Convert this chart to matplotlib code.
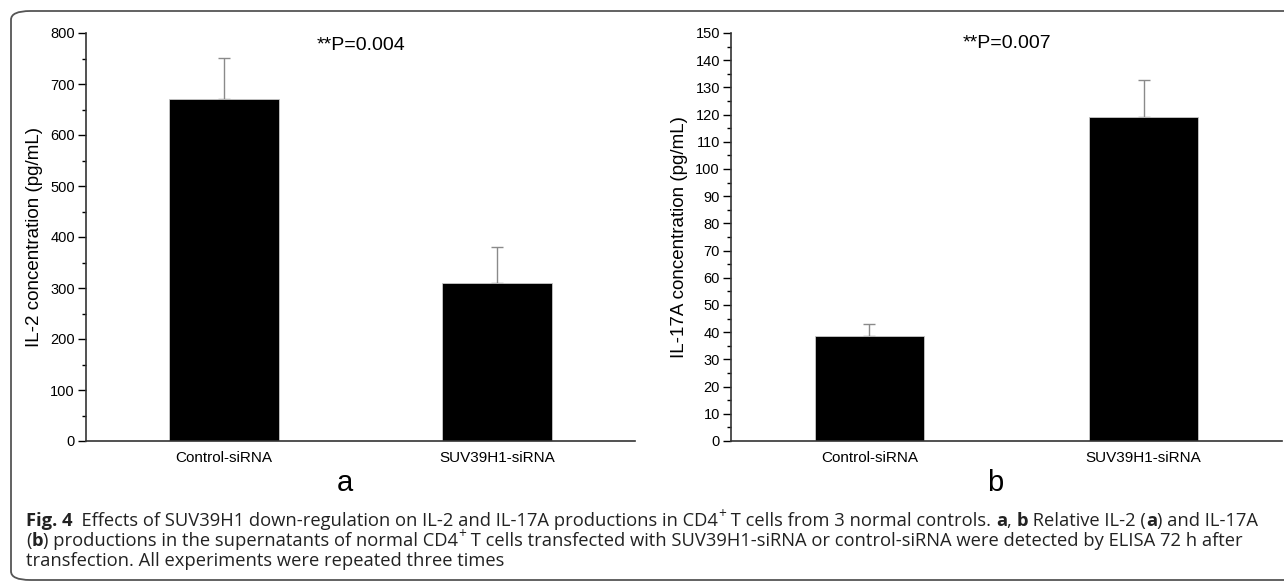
import numpy as np
import matplotlib.pyplot as plt
from matplotlib.patches import FancyBboxPatch

groups = ["Control-siRNA", "SUV39H1-siRNA"]
il2_mean = [670, 310]
il2_err = [81, 70]
il17_mean = [38.6, 119.1]
il17_err = [4.4, 13.6]
p_texts = ["**P=0.004", "**P=0.007"]

plt.rcParams["font.family"] = ["Liberation Sans", "DejaVu Sans"]

W, H = 1284, 582
fig = plt.figure(figsize=(W / 100, H / 100), dpi=100)


def px_axes(x0, x1, y0, y1):
    return fig.add_axes([x0 / W, 1 - y1 / H, (x1 - x0) / W, (y1 - y0) / H])


def bar_panel(ax, means, errs, ymax, major, minor, ylabel, ptext, box, p_xy, ylab_x):
    x0, x1, y0, y1 = box
    x = np.arange(len(groups))
    ax.bar(x, means, width=0.40, color="black", edgecolor="#c8c8c8", linewidth=0.6, zorder=2)
    ax.errorbar(x, means, yerr=[np.zeros(len(errs)), errs], fmt="none",
                ecolor="#8a8a8a", elinewidth=1.0, capsize=4, capthick=1.0, zorder=1)
    ax.set_xlim(-0.505, 1.505)
    ax.set_ylim(0, ymax)
    ax.set_yticks(np.arange(0, ymax + 1, major))
    ax.set_yticks(np.arange(0, ymax + 1, minor), minor=True)
    ax.set_xticks(x)
    ax.set_xticklabels(groups, fontsize=11)
    ax.tick_params(axis="x", length=0, pad=7)
    ax.tick_params(axis="y", which="major", length=6, width=1, labelsize=10.5, pad=2)
    ax.tick_params(axis="y", which="minor", length=3, width=1)
    for s in ["top", "right"]:
        ax.spines[s].set_visible(False)
    for s in ["left", "bottom"]:
        ax.spines[s].set_linewidth(1.2)
        ax.spines[s].set_color("#333333")
    ax.set_ylabel(ylabel, fontsize=13.5)
    ax.yaxis.set_label_coords((ylab_x - x0) / (x1 - x0), 0.5)
    ax.text((p_xy[0] - x0) / (x1 - x0), (y1 - p_xy[1]) / (y1 - y0), ptext,
            transform=ax.transAxes, fontsize=14, ha="left", va="center")


box_a = (86, 635, 33, 441)
ax1 = px_axes(*box_a)
bar_panel(ax1, il2_mean, il2_err, 800, 100, 50, "IL-2 concentration (pg/mL)",
          p_texts[0], box_a, (317, 45), 43)

box_b = (731, 1282, 33, 441)
ax2 = px_axes(*box_b)
bar_panel(ax2, il17_mean, il17_err, 150, 10, 5, "IL-17A concentration (pg/mL)",
          p_texts[1], box_b, (963, 44), 688)

fig.text(345 / W, 1 - 483 / H, "a", fontsize=21, ha="center", va="center")
fig.text(995 / W, 1 - 483 / H, "b", fontsize=21, ha="center", va="center")

# caption, drawn piece by piece: style n = normal, b = bold, s = superscript
cap_font = ["Open Sans", "DejaVu Sans"]
cap_size = 13.2
lines = [
    [("Fig. 4", "b"), ("  Effects of SUV39H1 down-regulation on IL-2 and IL-17A productions in CD4", "n"), ("+", "s"),
     (" T cells from 3 normal controls. ", "n"),
     ("a", "b"), (", ", "n"), ("b", "b"), (" Relative IL-2 (", "n"), ("a", "b"), (") and IL-17A", "n")],
    [("(", "n"), ("b", "b"), (") productions in the supernatants of normal CD4", "n"), ("+", "s"),
     (" T cells transfected with SUV39H1-siRNA or control-siRNA were detected by ELISA 72 h after", "n")],
    [("transfection. All experiments were repeated three times", "n")],
]
line_y = [521, 541, 561]

fig.canvas.draw()
renderer = fig.canvas.get_renderer()
for segs, yy in zip(lines, line_y):
    xx = 26
    for txt, style in segs:
        size = cap_size * 0.75 if style == "s" else cap_size
        dy = -6 if style == "s" else 0
        t = fig.text(xx / W, 1 - (yy + dy) / H, txt, fontsize=size, family=cap_font,
                     fontweight="bold" if style == "b" else "normal", ha="left", va="center",
                     color="#222222")
        xx += t.get_window_extent(renderer).width

border = FancyBboxPatch((11 / W, 1 - 580 / H), 1300 / W, 569 / H,
                        boxstyle="round,pad=0,rounding_size=0.015",
                        transform=fig.transFigure, facecolor="none",
                        edgecolor="#555555", linewidth=1.3, clip_on=False)
fig.patches.append(border)

fig.savefig("out.png", dpi=100)
